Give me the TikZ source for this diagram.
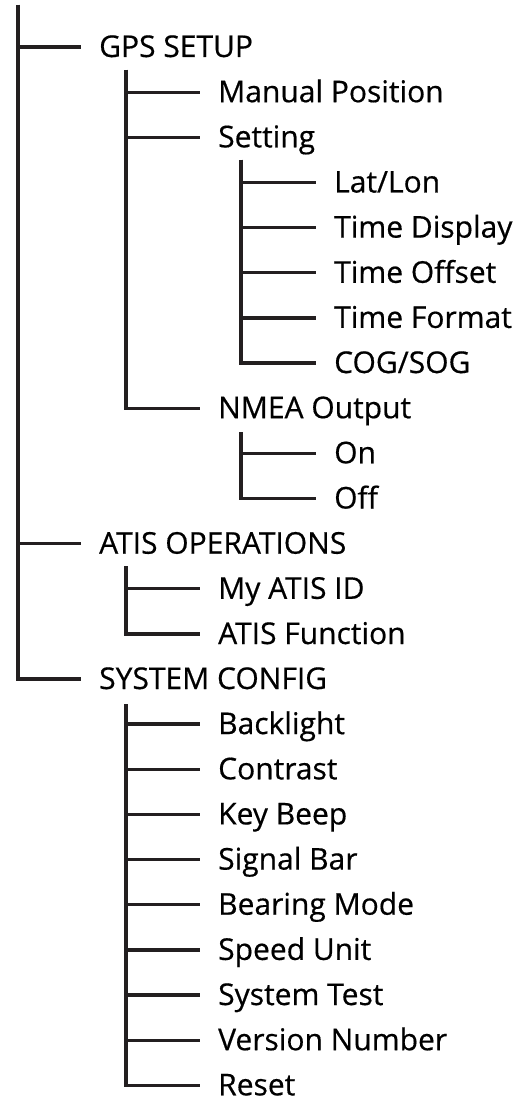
\documentclass[tikz,border=0pt]{standalone}
\usepackage{fontspec}
\setmainfont{Open Sans}[FakeBold=0.5]
\definecolor{treegray}{HTML}{231F20}
\tikzset{
  menuitem/.style={anchor=west, inner xsep=18pt, inner ysep=0pt,
    text height=21pt, text depth=1pt, font=\fontsize{30}{36}\selectfont},
  treeline/.style={line width=3.3pt, draw=treegray}
}
\begin{document}
\begin{tikzpicture}[x=1pt, y=-1pt]
            \useasboundingbox (0,0) rectangle (523,1099);

            % Trunk tops
            \coordinate (root) at (18,5);
            \coordinate (gpsT) at (126,70);
            \coordinate (setT) at (241,160);
            \coordinate (nmeaT) at (241,432);
            \coordinate (atisT) at (126,566);
            \coordinate (sysT) at (126,704);

            % Main menu
            \node[menuitem] (gps) at (81,47) {GPS SETUP};
            \node[menuitem] (atis) at (81,543.7) {ATIS OPERATIONS};
            \node[menuitem] (sys) at (81,679) {SYSTEM CONFIG};

            % GPS setup
            \node[menuitem] (manpos) at (200,92.2) {Manual Position};
            \node[menuitem] (setting) at (200,137.3) {Setting};
            \node[menuitem] (latlon) at (316,182.5) {Lat/Lon};
            \node[menuitem] (tdisp) at (316,227.6) {Time Display};
            \node[menuitem] (toff) at (316,272.8) {Time Offset};
            \node[menuitem] (tform) at (316,317.9) {Time Format};
            \node[menuitem] (cogsog) at (316,363) {COG/SOG};
            \node[menuitem] (nmea) at (200,408.2) {NMEA Output};
            \node[menuitem] (on) at (316,453.3) {On};
            \node[menuitem] (off) at (316,498.5) {Off};

            % ATIS operations
            \node[menuitem] (myid) at (200,588.8) {My ATIS ID};
            \node[menuitem] (atisfn) at (200,634) {ATIS Function};

            % System config
            \node[menuitem] (backl) at (200,724.1) {Backlight};
            \node[menuitem] (contr) at (200,769.3) {Contrast};
            \node[menuitem] (beep) at (200,814.4) {Key Beep};
            \node[menuitem] (sigbar) at (200,859.6) {Signal Bar};
            \node[menuitem] (bmode) at (200,904.7) {Bearing Mode};
            \node[menuitem] (speed) at (200,949.9) {Speed Unit};
            \node[menuitem] (stest) at (200,995) {System Test};
            \node[menuitem] (vers) at (200,1040.2) {Version Number};
            \node[menuitem] (reset) at (200,1085.3) {Reset};

            % Tree lines
            \foreach \n in {gps, atis, sys}
                \draw[treeline] (root) |- (\n.west);
            \foreach \n in {manpos, setting, nmea}
                \draw[treeline] (gpsT) |- (\n.west);
            \foreach \n in {latlon, tdisp, toff, tform, cogsog}
                \draw[treeline] (setT) |- (\n.west);
            \foreach \n in {on, off}
                \draw[treeline] (nmeaT) |- (\n.west);
            \foreach \n in {myid, atisfn}
                \draw[treeline] (atisT) |- (\n.west);
            \foreach \n in {backl, contr, beep, sigbar, bmode, speed, stest, vers, reset}
                \draw[treeline] (sysT) |- (\n.west);
        \end{tikzpicture}
\end{document}
